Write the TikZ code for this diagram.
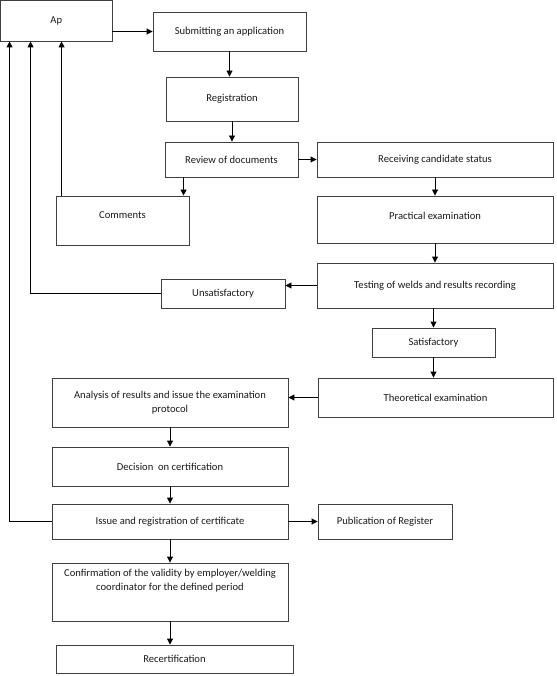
\documentclass[tikz,border=0pt]{standalone}
\usepackage{fontspec}
\setmainfont{Carlito}
\usetikzlibrary{arrows.meta,calc}
\newcommand\mybox[6]{\node[box, minimum width={#4-#2}, minimum height={#5-#3}] (#1) at ({(#2+#4)/2},{(#3+#5)/2}) {#6};}
\begin{document}
\begin{tikzpicture}[x=1pt,y=-1pt,
 box/.style={draw=black!75, line width=0.9pt, inner sep=0pt, align=center, font=\fontsize{10.6}{14}\selectfont, text=black!90},
 txt/.style={inner sep=0pt, align=center, font=\fontsize{10.6}{14}\selectfont, text=black!90},
 arr/.style={draw=black, line width=0.9pt, -{Triangle[length=6pt,width=6pt]}}]
\useasboundingbox (0,0) rectangle (556,676);
\mybox{ap}{0.5}{0.5}{112}{41}{Ap}
\mybox{sub}{153}{12}{306}{51}{Submitting an application}
\mybox{reg}{166}{77}{298}{121}{Registration}
\mybox{rev}{165}{142}{298}{177}{Review of documents}
\mybox{com}{56}{196}{189}{245}{}
\node[txt] (comT) at ([yshift=5pt]com.center) {Comments};
\mybox{rec}{317}{142}{553}{177}{Receiving candidate status}
\mybox{prac}{317}{196}{553}{243}{}
\node[txt] (pracT) at ([yshift=4pt]prac.center) {Practical examination};
\mybox{test}{317}{263}{553}{308}{Testing of welds and results recording}
\mybox{uns}{161}{279}{285}{308}{Unsatisfactory}
\mybox{sat}{372}{328}{495}{357}{Satisfactory}
\mybox{theo}{318}{378}{553}{417}{Theoretical examination}
\mybox{ana}{52}{378}{288}{427}{Analysis of results and issue the examination\\protocol}
\mybox{dec}{52}{447}{288}{486}{Decision\ \ on certification}
\mybox{iss}{52}{504}{288}{539}{Issue and registration of certificate}
\mybox{pub}{318}{504}{452}{539}{Publication of Register}
\mybox{conf}{52}{563}{288}{621}{}
\node[txt] (confT) at ([yshift=11pt]conf.center) {Confirmation of the validity by employer/welding\\coordinator for the defined period};
\mybox{rcrt}{56}{645}{293}{673}{Recertification}
% main flow
\draw[arr] (ap.east |- sub.west) -- (sub.west);
\draw[arr] (sub.south) -- (sub.south |- reg.north);
\draw[arr] (reg.south) -- (reg.south |- rev.north);
\draw[arr] ([xshift=19pt]rev.south west) -- ([xshift=19pt]rev.south west |- com.north);
\draw[arr] (rev.east) -- (rev.east -| rec.west);
\draw[arr] (rec.south) -- (rec.south |- prac.north);
\draw[arr] (prac.south) -- (prac.south |- test.north);
\draw[arr] (test.west) -- (test.west -| uns.east);
\draw[arr] (sat.north |- test.south) -- (sat.north);
\draw[arr] (sat.south) -- (sat.south |- theo.north);
\draw[arr] (theo.west) -- (theo.west -| ana.east);
\draw[arr] (ana.south) -- (ana.south |- dec.north);
\draw[arr] (dec.south) -- (dec.south |- iss.north);
\draw[arr] (iss.east) -- (iss.east -| pub.west);
\draw[arr] (iss.south) -- (iss.south |- conf.north);
\draw[arr] (conf.south) -- (conf.south |- rcrt.north);
% returns to Ap
\draw[arr] ([xshift=6pt]com.north west) -- ([xshift=6pt]com.north west |- ap.south);
\draw[arr] (uns.west) -| ([xshift=30.5pt]ap.south west);
\draw[arr] (iss.west) -| ([xshift=9.5pt]ap.south west);
\end{tikzpicture}
\end{document}
